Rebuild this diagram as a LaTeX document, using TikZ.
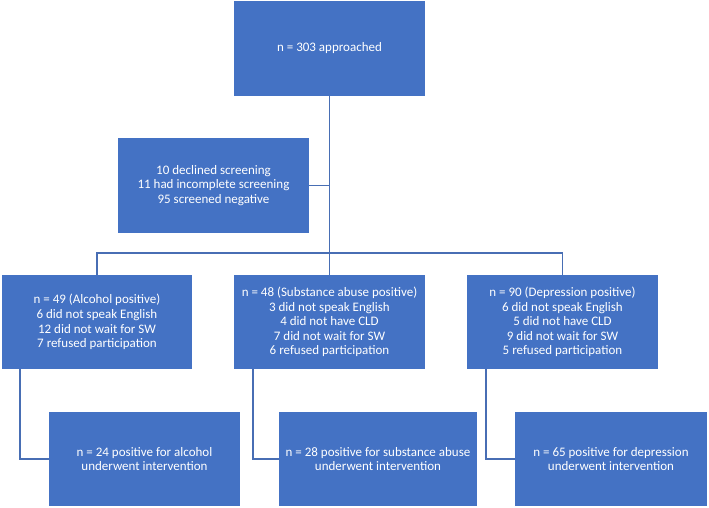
\documentclass[tikz,border=0pt]{standalone}
\usepackage{fontspec}
\setmainfont{Carlito}
\definecolor{boxblue}{RGB}{68,114,196}
\definecolor{lineblue}{RGB}{72,110,180}
\tikzset{
  box/.style={fill=boxblue, draw=none, text=white, align=center, inner sep=0pt,
    font=\fontsize{13}{14.6}\selectfont},
  conn/.style={draw=lineblue, line width=1.4pt}
}
\begin{document}
\begin{tikzpicture}[x=1pt,y=-1pt]
\useasboundingbox (0,0) rectangle (709,508);
\node[box, minimum width=191pt, minimum height=95pt] (top) at (329.5,48.5) {n = 303 approached};
\node[box, minimum width=191pt, minimum height=95pt] (side) at (213.5,185.5) {10 declined screening\\11 had incomplete screening\\95 screened negative};
\node[box, minimum width=190pt, minimum height=94pt] (r2a) at (97,322) {n = 49 (Alcohol positive)\\6 did not speak English\\12 did not wait for SW\\7 refused participation};
\node[box, minimum width=191pt, minimum height=94pt] (r2b) at (329.5,322) {n = 48 (Substance abuse positive)\\3 did not speak English\\4 did not have CLD\\7 did not wait for SW\\6 refused participation};
\node[box, minimum width=191pt, minimum height=94pt] (r2c) at (562.5,322) {n = 90 (Depression positive)\\6 did not speak English\\5 did not have CLD\\9 did not wait for SW\\5 refused participation};
\node[box, minimum width=191pt, minimum height=94pt] (r3a) at (144.5,459) {n = 24 positive for alcohol\\underwent intervention};
\node[box, minimum width=198pt, minimum height=94pt] (r3b) at (378,459) {n = 28 positive for substance abuse\\underwent intervention};
\node[box, minimum width=192pt, minimum height=94pt] (r3c) at (611,459) {n = 65 positive for depression\\underwent intervention};
\coordinate (hb) at (330,253);
\draw[conn] (top.south) -- (r2b.north);
\draw[conn] (side.east) -- (side.east -| top.south);
\draw[conn] (r2a.north) |- (hb) -| (r2c.north);
\draw[conn] ([xshift=18pt]r2a.south west) |- (r3a.west);
\draw[conn] ([xshift=19pt]r2b.south west) |- (r3b.west);
\draw[conn] ([xshift=19pt]r2c.south west) |- (r3c.west);
\end{tikzpicture}
\end{document}
